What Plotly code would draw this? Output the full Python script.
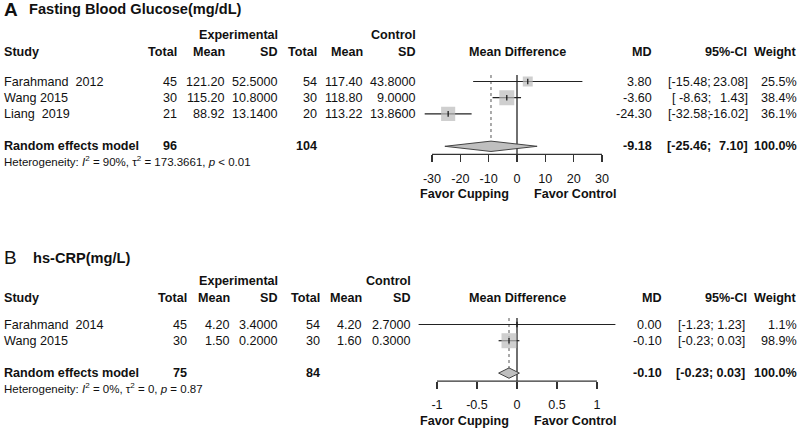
import plotly.graph_objects as go

# ---------------- data: panel A (Fasting Blood Glucose) ----------------
title_a = "Fasting Blood Glucose(mg/dL)"
studies_a = ["Farahmand  2012", "Wang 2015", "Liang  2019"]
exp_total_a = [45, 30, 21]
exp_mean_a = [121.20, 115.20, 88.92]
exp_sd_a = [52.5, 10.8, 13.14]
ctl_total_a = [54, 30, 20]
ctl_mean_a = [117.40, 118.80, 113.22]
ctl_sd_a = [43.8, 9.0, 13.86]
md_a = [3.80, -3.60, -24.30]
lo_a = [-15.48, -8.63, -32.58]
hi_a = [23.08, 1.43, -16.02]
weight_a = [25.5, 38.4, 36.1]
pooled_a = [-9.18, -25.46, 7.10]
pooled_tot_a = [96, 104]
het_a = "Heterogeneity: <i>I</i><sup>2</sup> = 90%, τ<sup>2</sup> = 173.3661, <i>p</i> &lt; 0.01"
ticks_a = [-30, -20, -10, 0, 10, 20, 30]

# ---------------- data: panel B (hs-CRP) ----------------
title_b = "hs-CRP(mg/L)"
studies_b = ["Farahmand  2014", "Wang 2015"]
exp_total_b = [45, 30]
exp_mean_b = [4.20, 1.50]
exp_sd_b = [3.4, 0.2]
ctl_total_b = [54, 30]
ctl_mean_b = [4.20, 1.60]
ctl_sd_b = [2.7, 0.3]
md_b = [0.00, -0.10]
lo_b = [-1.23, -0.23]
hi_b = [1.23, 0.03]
weight_b = [1.1, 98.9]
pooled_b = [-0.10, -0.23, 0.03]
pooled_tot_b = [75, 84]
het_b = "Heterogeneity: <i>I</i><sup>2</sup> = 0%, τ<sup>2</sup> = 0, <i>p</i> = 0.87"
ticks_b = [-1, -0.5, 0, 0.5, 1]

label_left = "Favor Cupping"
label_right = "Favor Control"

# ---------------- layout helpers ----------------
W, H = 800, 432
FONT = "Arial, Liberation Sans, Helvetica, sans-serif"
FS = 12.6
TXT = "#111111"
ROWSTEP = 16.2
NBSP = "\u00a0"


def px(p):
    return p / W


def py(p):
    return 1 - p / H


annotations = []


def ann(text, x, y, anchor="right", size=FS, bold=False):
    if bold:
        text = "<b>" + text + "</b>"
    annotations.append(dict(
        text=text, x=px(x), y=py(y), xref="paper", yref="paper",
        xanchor=anchor, yanchor="middle", showarrow=False, borderpad=0,
        font=dict(family=FONT, size=size, color=TXT)))


fig = go.Figure()


def panel(letter, letter_bold, title, y_title, y_head, row0, studies, et, em, esd, ct, cm, csd,
          md, lo, hi, wt, pooled, ptot, het, ticks, cols, mdx, cix_lo, cix_hi, ci_split,
          xaxis, yaxis, zero_px, unit_px, xpad):
    # titles
    ann(letter, 3, y_title, "left", size=19, bold=letter_bold)
    ann(title, 28 if letter_bold else 32, y_title + 0.5, "left", size=14.6, bold=True)
    # headers
    ann("Experimental", cols[2], y_head, bold=True)
    ann("Control", cols[5], y_head, bold=True)
    yh2 = y_head + 17
    ann("Study", 3, yh2, "left", bold=True)
    for c, t in zip(cols, ["Total", "Mean", "SD", "Total", "Mean", "SD"]):
        ann(t, c, yh2, bold=True)
    ann("Mean Difference", zero_px, yh2, "center", bold=True)
    ann("MD", mdx, yh2, bold=True)
    ann("95%-CI", 748, yh2, bold=True)
    ann("Weight", 798, yh2, bold=True)

    n = len(studies)
    rows = list(range(n))
    prow = n + 1
    for i in rows:
        yy = row0 + ROWSTEP * i
        ann(studies[i].replace("  ", NBSP + " "), 3, yy, "left")
        ann(str(et[i]), cols[0], yy)
        ann(f"{em[i]:.2f}", cols[1], yy)
        ann(f"{esd[i]:.4f}", cols[2], yy)
        ann(str(ct[i]), cols[3], yy)
        ann(f"{cm[i]:.2f}", cols[4], yy)
        ann(f"{csd[i]:.4f}", cols[5], yy)
        ann(f"{md[i]:.2f}", mdx, yy)
        if ci_split:
            low = f"{lo[i]:.2f};"
            low = "[" + NBSP * (7 - len(low)) + low
            ann(low, cix_lo, yy)
            ann(f"{hi[i]:.2f}]", cix_hi, yy)
        else:
            ann(f"[{lo[i]:.2f}; {hi[i]:.2f}]", cix_hi, yy)
        ann(f"{wt[i]:.1f}%", 798, yy)
    yp = row0 + ROWSTEP * prow
    ann("Random effects model", 3, yp, "left", bold=True)
    ann(str(ptot[0]), cols[0], yp, bold=True)
    ann(str(ptot[1]), cols[3], yp, bold=True)
    ann(f"{pooled[0]:.2f}", mdx, yp, bold=True)
    if ci_split:
        ann(f"[{pooled[1]:.2f};", cix_lo, yp, bold=True)
        ann(f"{pooled[2]:.2f}]", cix_hi, yp, bold=True)
    else:
        ann(f"[{pooled[1]:.2f}; {pooled[2]:.2f}]", cix_hi, yp, bold=True)
    ann("100.0%", 798, yp, bold=True)
    ann(het, 3, yp + 14.5, "left", size=11.5)

    axrow = prow + 0.5
    ann(label_left, zero_px - 7, row0 + ROWSTEP * axrow + 40, "right", bold=True)
    ann(label_right, zero_px + 16, row0 + ROWSTEP * axrow + 40, "left", bold=True)

    xa, ya = xaxis, yaxis
    # reference lines
    fig.add_trace(go.Scatter(x=[0, 0], y=[-0.4, axrow], xaxis=xa, yaxis=ya, mode="lines",
                             line=dict(color="#333333", width=1.4), hoverinfo="skip"))
    fig.add_trace(go.Scatter(x=[pooled[0], pooled[0]], y=[-0.4, prow], xaxis=xa, yaxis=ya,
                             mode="lines", line=dict(color="#555555", width=1, dash="dot"),
                             hoverinfo="skip"))
    # CI lines
    cx, cy = [], []
    for i in rows:
        cx += [lo[i], hi[i], None]
        cy += [i, i, None]
    fig.add_trace(go.Scatter(x=cx, y=cy, xaxis=xa, yaxis=ya, mode="lines",
                             line=dict(color="#222222", width=1.2), hoverinfo="skip"))
    # squares
    wmax = max(wt)
    fig.add_trace(go.Scatter(x=md, y=rows, xaxis=xa, yaxis=ya, mode="markers",
                             marker=dict(symbol="square", color="#bababa",
                                         size=[15 * w / wmax for w in wt], line=dict(width=0)),
                             hoverinfo="skip"))
    fig.add_trace(go.Scatter(x=md, y=rows, xaxis=xa, yaxis=ya, mode="markers",
                             marker=dict(symbol="line-ns", size=4,
                                         line=dict(color="#111111", width=1.2)),
                             hoverinfo="skip"))
    # diamond
    h = 0.32
    fig.add_trace(go.Scatter(x=[pooled[1], pooled[0], pooled[2], pooled[0], pooled[1]],
                             y=[prow, prow - h, prow, prow + h, prow], xaxis=xa, yaxis=ya,
                             mode="lines", fill="toself", fillcolor="#bfbfbf",
                             line=dict(color="#444444", width=1), hoverinfo="skip"))
    # axis baseline
    fig.add_trace(go.Scatter(x=[ticks[0], ticks[-1]], y=[axrow, axrow], xaxis=xa, yaxis=ya,
                             mode="lines", line=dict(color="#333333", width=1.2), hoverinfo="skip"))

    # axes
    rng = [-xpad, xpad]
    d0 = (zero_px - xpad * unit_px) / W
    d1 = (zero_px + xpad * unit_px) / W
    axis_px = row0 + ROWSTEP * axrow
    key_x = "xaxis" if xa == "x" else "xaxis" + xa[1:]
    key_y = "yaxis" if ya == "y" else "yaxis" + ya[1:]
    fig.layout[key_x] = dict(domain=[d0, d1], range=rng, anchor="free", position=py(axis_px),
                             showline=False, showgrid=False, zeroline=False,
                             ticks="outside", ticklen=7, tickwidth=1.2, tickcolor="#333333",
                             tickvals=ticks, ticktext=[f"{t:g}" for t in ticks],
                             ticklabelstandoff=5,
                             tickfont=dict(family=FONT, size=FS, color=TXT), fixedrange=True)
    top = -row0 / ROWSTEP
    bot = (H - row0) / ROWSTEP
    fig.layout[key_y] = dict(domain=[0, 1], range=[bot, top], visible=False, fixedrange=True)


panel("A", True, title_a, 9, 35, 81.5, studies_a, exp_total_a, exp_mean_a, exp_sd_a,
      ctl_total_a, ctl_mean_a, ctl_sd_a, md_a, lo_a, hi_a, weight_a, pooled_a, pooled_tot_a,
      het_a, ticks_a, [178, 226, 279, 318, 364, 417], 653, 712, 749, True,
      "x", "y", 517, 170 / 60, 33)

panel("B", False, title_b, 257, 281, 324.5, studies_b, exp_total_b, exp_mean_b, exp_sd_b,
      ctl_total_b, ctl_mean_b, ctl_sd_b, md_b, lo_b, hi_b, weight_b, pooled_b, pooled_tot_b,
      het_b, ticks_b, [188, 231, 279, 321, 363, 412], 663, 713, 746, False,
      "x2", "y2", 517, 160 / 2, 1.3)

fig.update_layout(width=W, height=H, margin=dict(l=0, r=0, t=0, b=0),
                  paper_bgcolor="white", plot_bgcolor="rgba(0,0,0,0)",
                  showlegend=False, annotations=annotations)

fig.write_html("out.html", config={"displayModeBar": False, "staticPlot": True},
               post_script="document.body.style.margin='0';document.body.style.overflow='hidden';")
